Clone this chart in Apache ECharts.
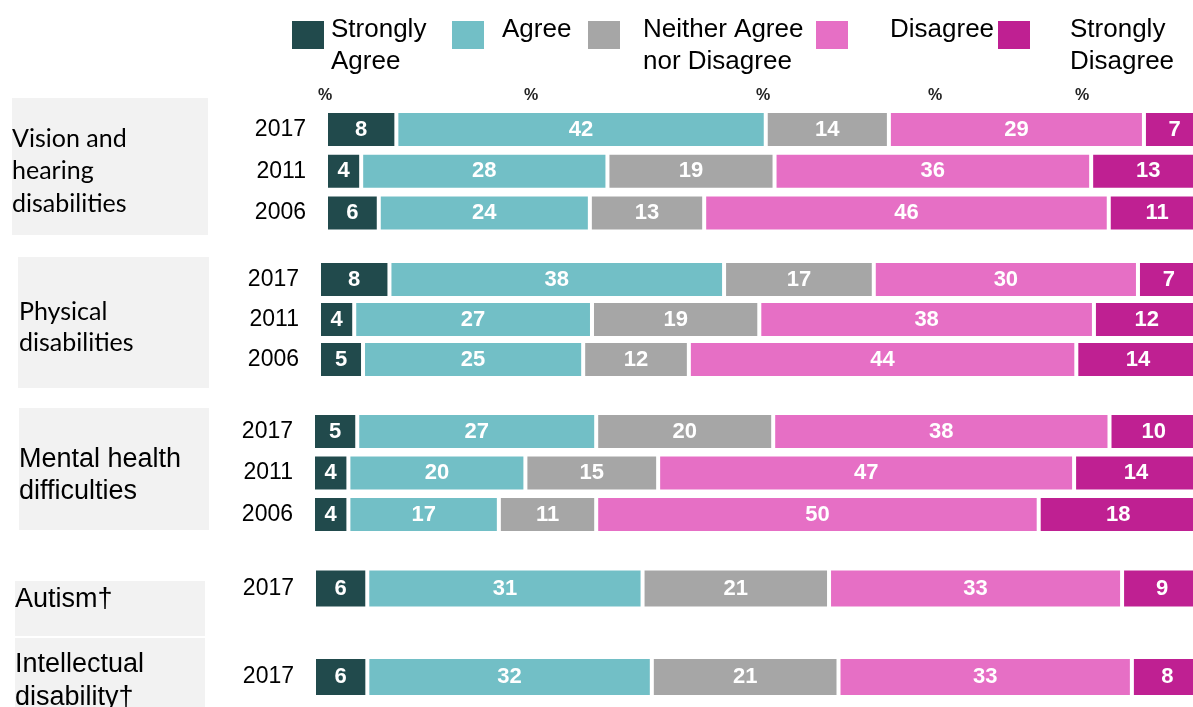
<!DOCTYPE html>
<html>
<head>
<meta charset="utf-8">
<script src="https://cdn.jsdelivr.net/npm/echarts@6/dist/echarts.min.js"></script>
<style>
  html, body { margin: 0; padding: 0; background: #ffffff; }
  #chart { width: 1193px; height: 707px; }
</style>
</head>
<body>
<div id="chart"></div>
<script>
// Response categories (legend order, stacked left to right)
const responses = ['Strongly Agree', 'Agree', 'Neither Agree nor Disagree', 'Disagree', 'Strongly Disagree'];
const legendText = [['Strongly', 'Agree'], ['Agree'], ['Neither Agree', 'nor Disagree'], ['Disagree'], ['Strongly', 'Disagree']];

// Disability groups and the survey year of each bar row
const groupNames = ['Vision and\nhearing\ndisabilities', 'Physical\ndisabilities', 'Mental health\ndifficulties', 'Autism†', 'Intellectual\ndisability†'];
const rowGroup = [0, 0, 0, 1, 1, 1, 2, 2, 2, 3, 4];
const rowYear = ['2017', '2011', '2006', '2017', '2011', '2006', '2017', '2011', '2006', '2017', '2017'];

// Percentages per response, one value per row
const stronglyAgree    = [8, 4, 6, 8, 4, 5, 5, 4, 4, 6, 6];
const agree            = [42, 28, 24, 38, 27, 25, 27, 20, 17, 31, 32];
const neither          = [14, 19, 13, 17, 19, 12, 20, 15, 11, 21, 21];
const disagree         = [29, 36, 46, 30, 38, 44, 38, 47, 50, 33, 33];
const stronglyDisagree = [7, 13, 11, 7, 12, 14, 10, 14, 18, 9, 8];
const seriesValues = [stronglyAgree, agree, neither, disagree, stronglyDisagree];

// Column header marks above the bars
const headerMarks = ['%', '%', '%', '%', '%'];

const colors = ['#214a4c', '#72bfc6', '#a6a6a6', '#e66fc5', '#bf2092'];

// Placement of each group block
const groupLayout = [
  { left: 326, width: 879.5, top: 108.6, height: 125.2, bar: 37, box: [12, 98, 196, 137], text: [12, 171], font: 'Lato', size: 25, lh: 32.5 },
  { left: 319, width: 880.6, top: 259.5, height: 120,   bar: 37, box: [18, 257, 191, 131], text: [19, 327], font: 'Lato', size: 25, lh: 31 },
  { left: 313, width: 885,   top: 410.8, height: 124.5, bar: 37, box: [19, 408, 190, 122], text: [19, 476], font: 'Liberation Sans', size: 27, lh: 32 },
  { left: 314, width: 888,   top: 568,   height: 41,    bar: 40, box: [15, 581, 190, 55],  text: [15, 600], font: 'Liberation Sans', size: 27, lh: 32 },
  { left: 314, width: 889,   top: 656.5, height: 41,    bar: 40, box: [15, 638, 190, 80],  text: [15, 681], font: 'Liberation Sans', size: 27, lh: 32.5 }
];
const legendLayout = [
  { left: 292, padL: 2 }, { left: 452, padL: 13 }, { left: 588, padL: 18 }, { left: 816, padL: 37 }, { left: 998, padL: 35 }
];
const headerX = [325, 531, 763, 935, 1082];

const grids = [], xAxes = [], yAxes = [], series = [], graphics = [];

groupLayout.forEach((g, gi) => {
  const rows = rowGroup.map((v, i) => (v === gi ? i : -1)).filter(i => i >= 0);
  grids.push({ left: g.left, width: g.width, top: g.top, height: g.height, outerBoundsMode: 'none' });
  xAxes.push({ type: 'value', gridIndex: gi, min: 0, max: 100, show: false });
  yAxes.push({
    type: 'category', gridIndex: gi, inverse: true,
    data: rows.map(i => rowYear[i]),
    axisLine: { show: false }, axisTick: { show: false },
    axisLabel: { color: '#000', fontSize: 23, fontFamily: 'Liberation Sans, Arial, sans-serif', margin: 20 }
  });
  responses.forEach((name, ri) => {
    series.push({
      type: 'bar', name: name, stack: 'group' + gi,
      xAxisIndex: gi, yAxisIndex: gi,
      barWidth: g.bar,
      data: rows.map(i => seriesValues[ri][i]),
      itemStyle: { color: colors[ri], borderColor: '#ffffff', borderWidth: 2 },
      label: {
        show: true, position: 'inside', color: '#ffffff',
        fontFamily: "'Liberation Sans Narrow', 'Arial Narrow', 'Liberation Sans', sans-serif",
        fontWeight: 'bold', fontSize: 22
      },
      emphasis: { disabled: true }
    });
  });
  // grey panel and group title
  graphics.push({
    type: 'rect', silent: true, z: -1,
    shape: { x: g.box[0], y: g.box[1], width: g.box[2], height: g.box[3] },
    style: { fill: '#f2f2f2' }
  });
  graphics.push({
    type: 'text', silent: true,
    x: g.text[0], y: g.text[1],
    style: {
      text: groupNames[gi], fill: '#000', font: g.size + 'px ' + g.font,
      lineHeight: g.lh, verticalAlign: 'middle', align: 'left'
    }
  });
});

headerMarks.forEach((t, i) => {
  graphics.push({
    type: 'text', silent: true, x: headerX[i], y: 96,
    style: {
      text: t, fill: '#222', align: 'center', verticalAlign: 'middle',
      font: "bold 16px 'Liberation Sans Narrow', 'Liberation Sans', sans-serif"
    }
  });
});

const legends = legendLayout.map((l, i) => {
  const lines = legendText[i];
  const twoLines = lines.length > 1;
  return {
    left: l.left, top: 16.5, padding: 0,
    orient: 'horizontal', icon: 'rect', itemWidth: 32, itemHeight: 28,
    selectedMode: false,
    data: [responses[i]],
    formatter: () => lines.map(s => '{t|' + s + '}').join('\n'),
    itemStyle: { borderWidth: 0 },
    textStyle: {
      padding: twoLines ? [21, 0, 0, l.padL] : [0, 0, 11, l.padL],
      rich: {
        t: { color: '#000', fontSize: 26, lineHeight: 32, fontFamily: 'Liberation Sans, Arial, sans-serif' }
      }
    }
  };
});

const chart = echarts.init(document.getElementById('chart'), null, { renderer: 'canvas' });
chart.setOption({
  animation: false,
  backgroundColor: '#ffffff',
  color: colors,
  legend: legends,
  grid: grids,
  xAxis: xAxes,
  yAxis: yAxes,
  series: series,
  graphic: { elements: graphics }
});
</script>
</body>
</html>
